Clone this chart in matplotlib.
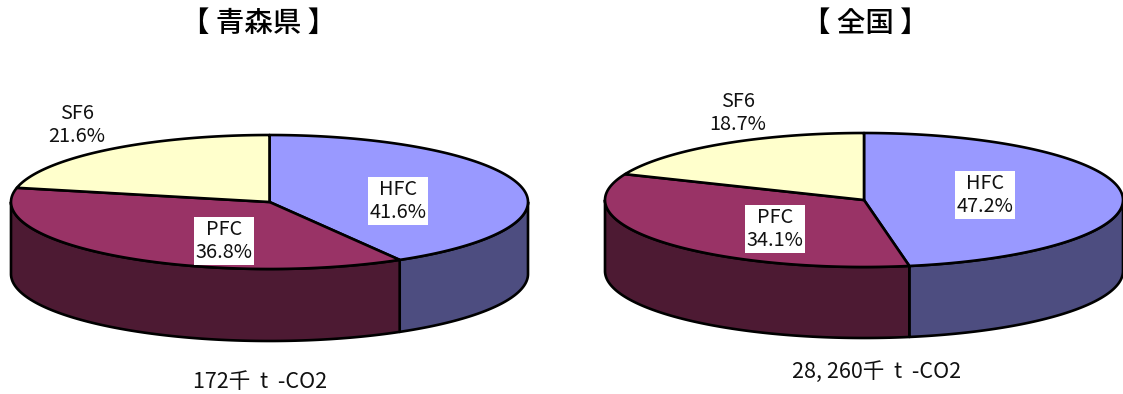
import numpy as np
import matplotlib
matplotlib.use('Agg')
import matplotlib.pyplot as plt

plt.rcParams['font.family'] = ['Noto Sans CJK JP', 'DejaVu Sans']

W, H = 1123, 394

gases = ['HFC', 'PFC', 'SF6']
aomori_share = [41.6, 36.8, 21.6]
japan_share = [47.2, 34.1, 18.7]
aomori_title = '【 青森県 】'
japan_title = '【 全国 】'
aomori_total = '172千  t  -CO2'
japan_total = '28, 260千  t  -CO2'

top_colors = ['#9999ff', '#993366', '#ffffcc']
side_colors = ['#4d4d80', '#4d1a33', '#808066']


def px_text(fig, x, y, s, **kw):
    return fig.text(x / W, 1 - y / H, s, ha='center', va='center', **kw)


def pie3d(fig, cx, cy, rx, ry, depth, shares):
    # axes cover the whole disc, one data unit is one radius
    ax = fig.add_axes([(cx - rx) / W, 1 - (cy + ry + depth) / H, 2 * rx / W, (2 * ry + depth) / H])
    ax.set_xlim(-1, 1)
    ax.set_ylim(-1 - depth / ry, 1)
    ax.axis('off')
    d = depth / ry
    edges = np.cumsum([0] + list(shares)) / np.sum(shares) * 2 * np.pi

    # side wall only for the part of the rim that faces the viewer
    for i in range(len(shares)):
        a0, a1 = max(edges[i], np.pi / 2), min(edges[i + 1], 3 * np.pi / 2)
        if a1 <= a0:
            continue
        t = np.linspace(a0, a1, 200)
        x = np.sin(t)
        y = np.cos(t)
        ax.fill(np.r_[x, x[::-1]], np.r_[y, y[::-1] - d], facecolor=side_colors[i],
                edgecolor='black', lw=1.9, clip_on=False, joinstyle='round')

    for i in range(len(shares)):
        t = np.linspace(edges[i], edges[i + 1], 300)
        ax.fill(np.r_[0, np.sin(t)], np.r_[0, np.cos(t)], facecolor=top_colors[i],
                edgecolor='black', lw=1.9, clip_on=False, joinstyle='round')
    return ax


def label(fig, x, y, name, share, boxed=True):
    kw = dict(fontsize=14.3, linespacing=1.08, color='#111111')
    if boxed:
        kw['bbox'] = dict(facecolor='white', edgecolor='none', pad=1.5)
    px_text(fig, x, y, '%s\n%.1f%%' % (name, share), **kw)


fig = plt.figure(figsize=(W / 100, H / 100), dpi=100)

pie3d(fig, 269.5, 202, 258.5, 67, 72, aomori_share)
pie3d(fig, 864, 200, 259, 67, 71, japan_share)

label(fig, 398, 201, gases[0], aomori_share[0])
label(fig, 224, 241, gases[1], aomori_share[1])
label(fig, 77, 125, gases[2], aomori_share[2], boxed=False)

label(fig, 985, 195, gases[0], japan_share[0])
label(fig, 775, 229, gases[1], japan_share[1])
label(fig, 738, 113, gases[2], japan_share[2], boxed=False)

px_text(fig, 259, 23, aomori_title, fontsize=20.5, fontweight='medium', color='black')
px_text(fig, 865, 23, japan_title, fontsize=20.5, fontweight='medium', color='black')
px_text(fig, 260, 382, aomori_total, fontsize=15.5, color='#111111')
px_text(fig, 877, 372, japan_total, fontsize=15.5, color='#111111')

fig.savefig('out.png', dpi=100, facecolor='white')
